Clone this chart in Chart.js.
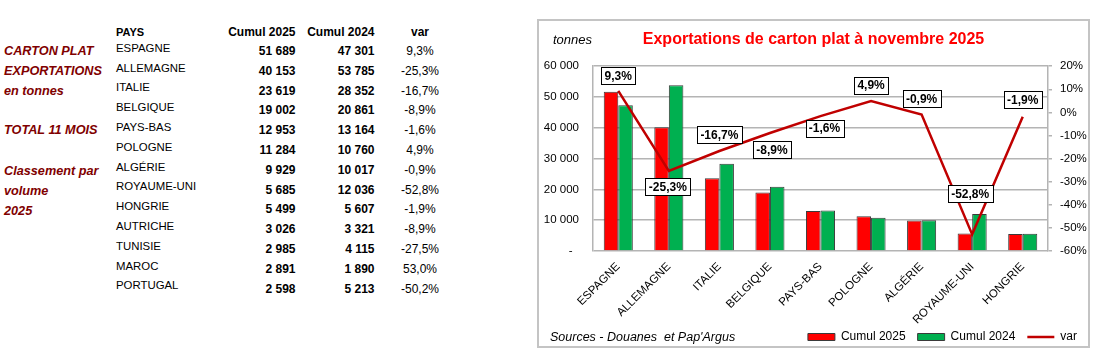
<!DOCTYPE html>
<html><head><meta charset="utf-8">
<script src="https://cdn.jsdelivr.net/npm/chart.js@4.4.1/dist/chart.umd.min.js"></script>
<style>
html,body{margin:0;padding:0;background:#fff;width:1094px;height:360px;overflow:hidden;font-family:"Liberation Sans",Arial,sans-serif;}
.t{position:absolute;white-space:nowrap;line-height:1;}
#box{position:absolute;left:537px;top:19px;width:553px;height:329px;border:2px solid #C4C4C4;box-sizing:border-box;}
#c{position:absolute;left:538px;top:20px;}
</style></head><body>
<div id="left"></div>
<div id="box"></div>
<canvas id="c" width="551" height="333"></canvas>
<div id="overlay"></div>
<script>
// ---------- DATA ----------
const countries = ["ESPAGNE","ALLEMAGNE","ITALIE","BELGIQUE","PAYS-BAS","POLOGNE","ALGÉRIE","ROYAUME-UNI","HONGRIE","AUTRICHE","TUNISIE","MAROC","PORTUGAL"];
const cumul2025 = [51689,40153,23619,19002,12953,11284,9929,5685,5499,3026,2985,2891,2598];
const cumul2024 = [47301,53785,28352,20861,13164,10760,10017,12036,5607,3321,4115,1890,5213];
const variation = [9.3,-25.3,-16.7,-8.9,-1.6,4.9,-0.9,-52.8,-1.9,-8.9,-27.5,53.0,-50.2];
const chartCount = 9;
const tonnesTicks = [0,10000,20000,30000,40000,50000,60000];
const pctTicks = [-60,-50,-40,-30,-20,-10,0,10,20];
const tableHeaders = ["PAYS","Cumul 2025","Cumul 2024","var"];
const sideNotes = [["CARTON PLAT",50.5],["EXPORTATIONS",71],["en tonnes",91],["TOTAL 11 MOIS",130],["Classement par",170.7],["volume",190.7],["2025",210.7]];
const chartTitle = "Exportations de carton plat à novembre 2025";

// ---------- helpers ----------
function fmtNum(v){ return String(v).replace(/\B(?=(\d{3})+(?!\d))/g,' '); }
function fmtPct(v){ return v.toFixed(1).replace('.',',') + '%'; }
function put(parent, text, x, cy, css, align){
  const d = document.createElement('div');
  d.className = 't';
  d.textContent = text;
  d.style.cssText += css;
  d.style.left = x + 'px';
  d.style.top = cy + 'px';
  const tx = align === 'right' ? '-100%' : (align === 'center' ? '-50%' : '0');
  d.style.transform = 'translate(' + tx + ',-50%)';
  parent.appendChild(d);
}

// ---------- left table ----------
const L = document.getElementById('left');
sideNotes.forEach(([txt, y]) => put(L, txt, 4, y, 'font-size:12.7px;font-weight:bold;font-style:italic;color:#800000;', 'left'));
put(L, tableHeaders[0], 116, 32, 'font-size:11px;font-weight:bold;', 'left');
put(L, tableHeaders[1], 295.5, 32, 'font-size:12px;font-weight:bold;', 'right');
put(L, tableHeaders[2], 374.5, 32, 'font-size:12px;font-weight:bold;', 'right');
put(L, tableHeaders[3], 420, 32, 'font-size:12px;font-weight:bold;', 'center');
countries.forEach((c, i) => {
  put(L, c, 116, 48.8 + 19.8*i, 'font-size:11.4px;', 'left');
  put(L, fmtNum(cumul2025[i]), 295.5, 51 + 19.8*i, 'font-size:12px;font-weight:bold;', 'right');
  put(L, fmtNum(cumul2024[i]), 374.5, 51 + 19.8*i, 'font-size:12px;font-weight:bold;', 'right');
  put(L, fmtPct(variation[i]), 420, 51 + 19.8*i, 'font-size:12px;', 'center');
});

// ---------- chart overlay texts ----------
const O = document.getElementById('overlay');
put(O, 'tonnes', 553, 39, 'font-size:13px;font-style:italic;', 'left');
put(O, "Sources - Douanes\u00a0 et Pap'Argus", 550, 337, 'font-size:12.5px;font-style:italic;', 'left');

// ---------- chart ----------
Chart.defaults.font.family = '"Liberation Sans", Arial, sans-serif';
Chart.defaults.color = '#000';

const varLabelPlugin = {
  id: 'varLabels',
  afterDatasetsDraw(chart, args, opts){
    const meta = chart.getDatasetMeta(2);
    const ds = chart.data.datasets[2].data;
    const ctx = chart.ctx;
    ctx.save();
    ctx.font = 'bold 12px "Liberation Sans", Arial, sans-serif';
    ctx.textAlign = 'center';
    ctx.textBaseline = 'middle';
    meta.data.forEach((pt, i) => {
      const txt = fmtPct(ds[i]);
      const off = opts.offsets[i] || [0, -16];
      const cx = pt.x + off[0], cy = pt.y + off[1];
      const w = Math.round(ctx.measureText(txt).width + 7), h = 17;
      const x0 = Math.round(cx - w/2) + 0.5, y0 = Math.round(cy - h/2) + 0.5;
      ctx.fillStyle = '#fff';
      ctx.fillRect(x0, y0, w, h);
      ctx.strokeStyle = '#000';
      ctx.lineWidth = 1;
      ctx.strokeRect(x0, y0, w, h);
      ctx.fillStyle = '#000';
      ctx.fillText(txt, cx, cy + 1);
    });
    ctx.restore();
  }
};

const gridGray = '#B4B4B4';
const legendGap = '   ';
new Chart(document.getElementById('c'), {
  type: 'bar',
  data: {
    labels: countries.slice(0, chartCount),
    datasets: [
      { label: 'Cumul 2025', data: cumul2025.slice(0, chartCount), backgroundColor: '#FF0000', borderColor: '#3A3A3A', borderWidth: 1, yAxisID: 'y', order: 1, categoryPercentage: 0.575, barPercentage: 1 },
      { label: 'Cumul 2024', data: cumul2024.slice(0, chartCount), backgroundColor: '#00B050', borderColor: '#3A3A3A', borderWidth: 1, yAxisID: 'y', order: 1, categoryPercentage: 0.575, barPercentage: 1 },
      { type: 'line', label: 'var', data: variation.slice(0, chartCount), borderColor: '#C00000', backgroundColor: '#C00000', borderWidth: 2.5, pointRadius: 0, tension: 0, fill: false, yAxisID: 'y1', order: 0 }
    ]
  },
  options: {
    responsive: false, animation: false, devicePixelRatio: 1,
    layout: { padding: 0 },
    plugins: {
      title: { display: true, text: chartTitle, color: '#FF0000', font: { size: 16, weight: 'bold' }, padding: { top: 10, bottom: 17 } },
      legend: {
        position: 'bottom', align: 'end',
        labels: {
          usePointStyle: true, pointStyleWidth: 27, boxHeight: 7, padding: 2, color: '#000', font: { size: 12 },
          generateLabels(chart){
            return chart.data.datasets.map((d, i) => ({
              text: d.label + legendGap, fillStyle: d.backgroundColor, strokeStyle: d.borderColor,
              lineWidth: d.type === 'line' ? 2.5 : 1, pointStyle: d.type === 'line' ? 'line' : 'rect',
              hidden: false, datasetIndex: i, fontColor: '#000'
            }));
          }
        }
      },
      tooltip: { enabled: false },
      varLabels: { offsets: [[0,-15],[-1,16],[0,-16],[2,17],[4,12],[0,-16],[0,-16],[-2,-41],[0,-17]] }
    },
    scales: {
      x: {
        grid: { display: false, drawTicks: false }, border: { display: false },
        ticks: { minRotation: 45, maxRotation: 45, autoSkip: false, padding: 9, color: '#000', font: { size: 11.5 } },
        afterFit(s){ s.height = 78; }
      },
      y: {
        position: 'left', min: 0, max: 60000,
        afterBuildTicks(s){ s.ticks = tonnesTicks.map(v => ({ value: v })); },
        grid: { color: gridGray, lineWidth: 1.5, drawTicks: false },
        border: { color: gridGray, width: 1.5 },
        ticks: { padding: 14, color: '#000', font: { size: 11.5 }, callback: v => v === 0 ? '-  ' : fmtNum(v) },
        afterFit(s){ s.width = 55; }
      },
      y1: {
        position: 'right', min: -60, max: 20,
        afterBuildTicks(s){ s.ticks = pctTicks.map(v => ({ value: v })); },
        grid: { drawOnChartArea: false, drawTicks: true, tickLength: 4, color: gridGray, lineWidth: 1.5 },
        border: { color: gridGray, width: 1.5 },
        ticks: { padding: 8, color: '#000', font: { size: 11.5 }, callback: v => v + '%' },
        afterFit(s){ s.width = 41; }
      }
    }
  },
  plugins: [varLabelPlugin]
});
</script>
</body></html>
